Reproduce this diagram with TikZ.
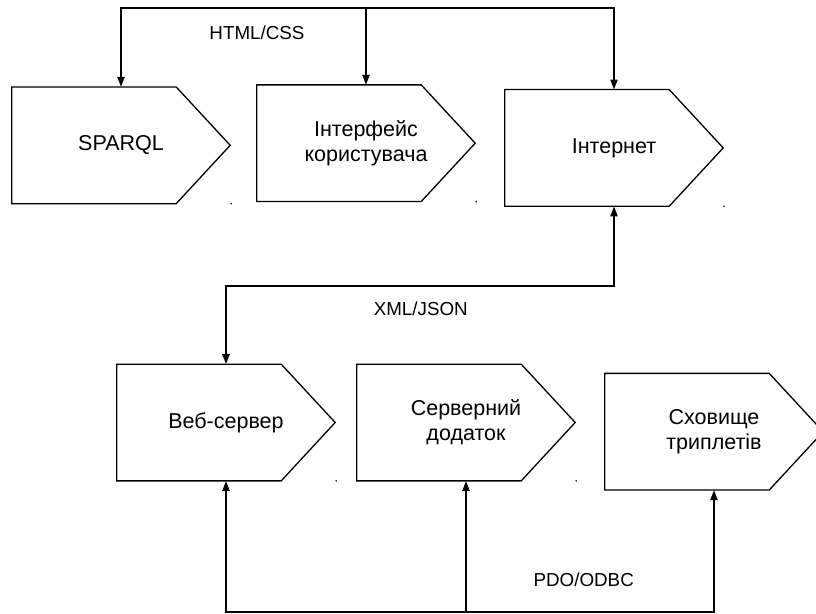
\documentclass[tikz,border=0pt]{standalone}
\usepackage{fontspec}
\setmainfont{Liberation Sans}
\usetikzlibrary{arrows.meta}

\begin{document}
\begin{tikzpicture}[x=1pt,y=-1pt,
  stage/.style={minimum width=218pt, minimum height=116.3pt, inner sep=0pt,
    align=center, font=\fontsize{21.5}{25}\selectfont},
  outline/.style={line width=1.3pt, line join=miter},
  conn/.style={line width=2pt, line cap=rect, line join=miter},
  tip/.style={-{Triangle[length=10pt,width=7pt]}},
  bothtips/.style={{Triangle[length=10pt,width=7pt]}-{Triangle[length=10pt,width=7pt]}},
  lab/.style={font=\fontsize{18.8}{22}\selectfont, anchor=base, inner sep=0pt}]

\useasboundingbox (0,0) rectangle (816,613);
\clip (0,0) rectangle (816,613);

% stages of the system
\node[stage] (sparql) at (121,145.3) {SPARQL};
\node[stage] (ui)     at (366,143.2) {Інтерфейс\\користувача};
\node[stage] (net)    at (614,147.9) {Інтернет};
\node[stage] (web)    at (226,422.5) {Веб-сервер};
\node[stage] (app)    at (466,422.5) {Серверний\\додаток};
\node[stage] (store)  at (714,431.7) {Сховище\\триплетів};

% pentagon outlines and the small mark under each tip
\foreach \n in {sparql,ui,net,web,app,store}{
  \draw[outline] (\n.north west) -- ([xshift=-54pt]\n.north east) -- (\n.east)
    -- ([xshift=-54pt]\n.south east) -- (\n.south west) -- cycle;
  \fill[black!85] ([xshift=1pt]\n.east |- \n.south) circle (1pt);
}

% bus lines
\coordinate (bustop) at (0,8);
\coordinate (busmid) at (0,286);
\coordinate (busbot) at (0,612);

\draw[conn] (sparql.north |- bustop) -- (net.north |- bustop);
\foreach \n in {sparql,ui,net}
  \draw[conn,tip] (\n.north |- bustop) -- (\n.north);

\draw[conn,bothtips] (net.south) -- (net.south |- busmid)
  -- (web.north |- busmid) -- (web.north);

\draw[conn] (web.south |- busbot) -- (store.south |- busbot);
\foreach \n in {web,app,store}
  \draw[conn,tip] (\n.south |- busbot) -- (\n.south);

% protocol labels
\node[lab] (html) at (257,39.3)    {HTML/CSS};
\node[lab] (xml)  at (420.8,315)   {XML/JSON};
\node[lab] (pdo)  at (583.7,586.7) {PDO/ODBC};
\end{tikzpicture}
\end{document}
